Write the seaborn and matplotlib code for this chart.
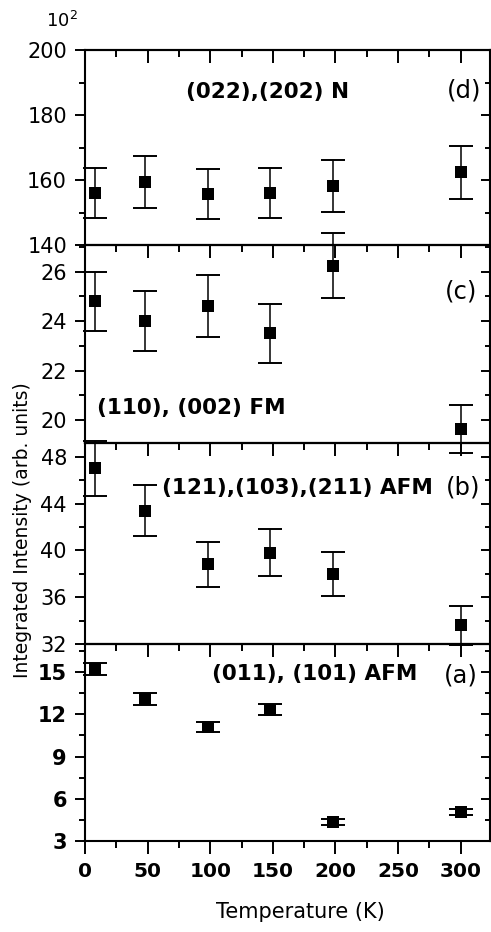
import matplotlib

matplotlib.use("Agg")
import matplotlib.pyplot as plt
import pandas as pd
import seaborn as sns
from matplotlib.ticker import MultipleLocator

# temperatures (K) and integrated intensities
temperature = [8, 48, 98, 148, 198, 300]

intensity_d = [156.0, 159.5, 155.7, 156.0, 158.3, 162.4]
error_d = [7.8, 8.0, 7.8, 7.8, 8.0, 8.1]

intensity_c = [24.8, 24.0, 24.6, 23.5, 26.25, 19.65]
error_c = [1.2, 1.2, 1.25, 1.2, 1.3, 0.97]

intensity_b = [47.0, 43.4, 38.8, 39.8, 38.0, 33.6]
error_b = [2.35, 2.15, 1.95, 2.0, 1.9, 1.65]

intensity_a = [15.25, 13.1, 11.1, 12.35, 4.35, 5.05]
error_a = [0.45, 0.4, 0.37, 0.38, 0.2, 0.22]

x_ticks = [0, 50, 100, 150, 200, 250, 300]

sns.set_style("ticks")
plt.rcParams["font.family"] = ["DejaVu Sans"]
plt.rcParams.update({
    "axes.linewidth": 1.5,
    "axes.edgecolor": "black",
    "text.color": "black",
    "xtick.color": "black",
    "ytick.color": "black",
    "xtick.labelcolor": "black",
    "ytick.labelcolor": "black",
})

W, H = 491, 932
fig = plt.figure(figsize=(W / 100, H / 100), dpi=100)

left_px, right_px = 85, 490.5
x_max = (right_px - left_px) / 1.2523

# (values, errors, ylim, major step, label, label xy, tag xy, top px, bottom px)
panels = [
    (intensity_d, error_d, (140, 200), 20, "(022),(202) N", (146, 187.0), "(d)", (303, 187.4), 50, 245),
    (intensity_c, error_c, (19.07, 27.08), 2, "(110), (002) FM", (84.6, 20.5), "(c)", (300, 25.2), 245, 443),
    (intensity_b, error_b, (32, 49.17), 4, "(121),(103),(211) AFM", (170, 45.35), "(b)", (302, 45.35), 443, 644),
    (intensity_a, error_a, (2.98, 17.02), 3, "(011), (101) AFM", (183.7, 14.88), "(a)", (300, 14.8), 644, 841),
]

for i, (vals, errs, ylim, step, label, label_xy, tag, tag_xy, top, bottom) in enumerate(panels):
    is_bottom = i == len(panels) - 1
    ax = fig.add_axes([left_px / W, 1 - bottom / H, (right_px - left_px) / W, (bottom - top) / H])
    ax.patch.set_visible(False)
    frame = pd.DataFrame({"T": temperature, "I": vals, "err": errs})

    ax.errorbar(frame["T"], frame["I"], yerr=frame["err"], fmt="none", ecolor="black",
                elinewidth=1.1, capsize=8.4, capthick=1.4, clip_on=False, zorder=3)
    sns.scatterplot(data=frame, x="T", y="I", marker="s", s=85, color="black",
                    edgecolor="black", linewidth=0, ax=ax, zorder=4, clip_on=False)

    ax.set_xlim(0, x_max)
    ax.set_ylim(*ylim)
    ax.set_xlabel("")
    ax.set_ylabel("")

    ax.set_xticks(x_ticks)
    ax.xaxis.set_minor_locator(MultipleLocator(25))
    ax.yaxis.set_major_locator(MultipleLocator(step))
    ax.yaxis.set_minor_locator(MultipleLocator(step / 2))

    ax.tick_params(axis="x", which="both", direction="out", top=False, bottom=is_bottom,
                   labelbottom=is_bottom, width=1.4, pad=6)
    ax.tick_params(axis="x", which="major", length=9)
    ax.tick_params(axis="x", which="minor", length=5)
    ax.tick_params(axis="y", which="both", direction="out", right=False, width=1.4, pad=6,
                   labelsize=15)
    ax.tick_params(axis="y", which="major", length=7)
    ax.tick_params(axis="y", which="minor", length=4)
    for t in ax.get_xticklabels():
        t.set_fontweight("bold")
        t.set_fontsize(14.5)
    if is_bottom:
        for t in ax.get_yticklabels():
            t.set_fontweight("bold")

    top_axis = ax.secondary_xaxis("top")
    top_axis.set_xticks(x_ticks)
    top_axis.xaxis.set_minor_locator(MultipleLocator(25))
    top_axis.tick_params(axis="x", which="both", direction="in", labeltop=False, width=1.4)
    top_axis.tick_params(axis="x", which="major", length=9)
    top_axis.tick_params(axis="x", which="minor", length=5)

    right_axis = ax.secondary_yaxis("right")
    right_axis.yaxis.set_major_locator(MultipleLocator(step))
    right_axis.yaxis.set_minor_locator(MultipleLocator(step / 2))
    right_axis.tick_params(axis="y", which="both", direction="in", labelright=False, width=1.4)
    right_axis.tick_params(axis="y", which="major", length=7)
    right_axis.tick_params(axis="y", which="minor", length=4)

    ax.text(*label_xy, label, fontsize=15.5, fontweight="bold", ha="center", va="center")
    ax.text(*tag_xy, tag, fontsize=17.5, ha="center", va="center")

fig.text(23 / W, 1 - 530 / H, "Integrated Intensity (arb. units)", rotation=90,
         fontsize=13.5, ha="center", va="center")
fig.text(300 / W, 1 - 912 / H, "Temperature (K)", fontsize=15, ha="center", va="center")
fig.text(46 / W, 1 - 21 / H, r"$\mathregular{10^2}$", fontsize=13, ha="left", va="center")

fig.savefig("out.png", dpi=100)
plt.close(fig)
